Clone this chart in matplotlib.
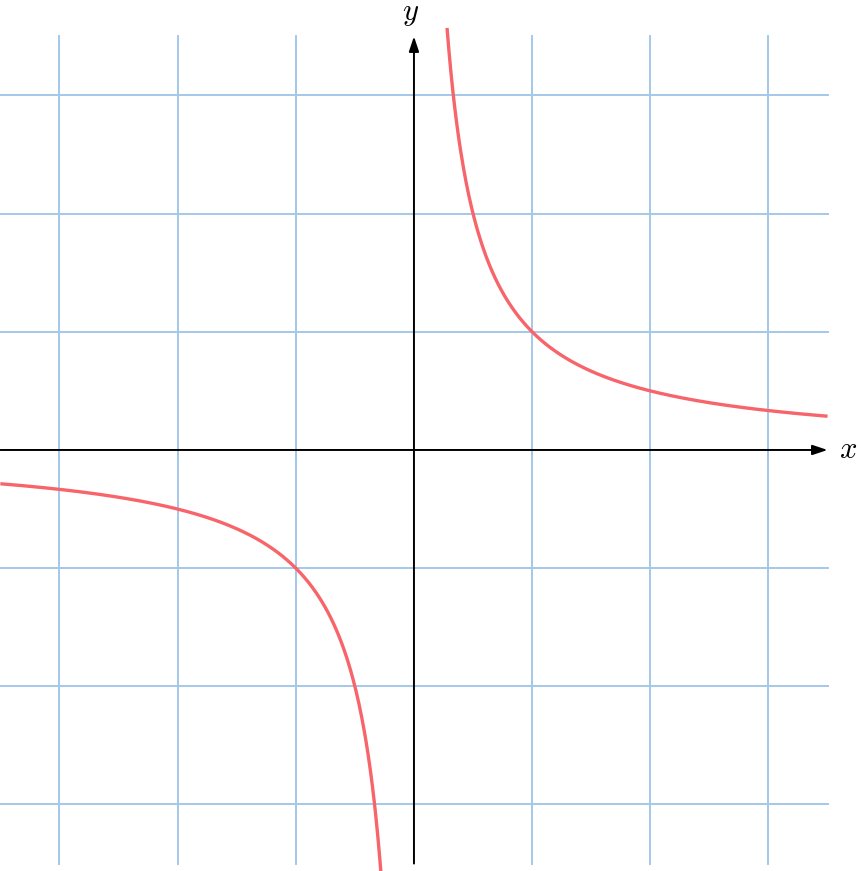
import numpy as np
import matplotlib.pyplot as plt

plt.rcParams["mathtext.fontset"] = "cm"

# grid positions (units)
grid_ticks = [-3, -2, -1, 1, 2, 3]
grid_extent = 3.5

# function y = 1/x, drawn on two branches
branch_left = (-3.5, -0.28)
branch_right = (0.28, 3.5)

grid_color = "#a4c8ea"
curve_color = "#f7646a"


def main():
    fig = plt.figure(figsize=(8.61, 8.71), dpi=100)
    ax = fig.add_axes([0, 0, 1, 1])
    ax.set_xlim(-3.503, 3.783)
    ax.set_ylim(-3.563, 3.808)
    ax.axis("off")

    for t in grid_ticks:
        ax.plot([t, t], [-grid_extent, grid_extent], color=grid_color, lw=1.4, zorder=1)
        ax.plot([-grid_extent, grid_extent], [t, t], color=grid_color, lw=1.4, zorder=1)

    arrow = dict(arrowstyle="-|>,head_length=0.9,head_width=0.3", color="black",
                 lw=1.4, shrinkA=0, shrinkB=0)
    ax.annotate("", xy=(grid_extent, 0), xytext=(-grid_extent, 0), arrowprops=arrow, zorder=2)
    ax.annotate("", xy=(0, grid_extent), xytext=(0, -grid_extent), arrowprops=arrow, zorder=2)

    for lo, hi in (branch_left, branch_right):
        xs = np.linspace(lo, hi, 400)
        ax.plot(xs, 1 / xs, color=curve_color, lw=2.4, zorder=3, solid_capstyle="butt")

    ax.text(3.675, 0, "$x$", fontsize=22, ha="center", va="center")
    ax.text(-0.03, 3.695, "$y$", fontsize=22, ha="center", va="center")

    fig.savefig("out.png", dpi=100)


if __name__ == "__main__":
    main()
